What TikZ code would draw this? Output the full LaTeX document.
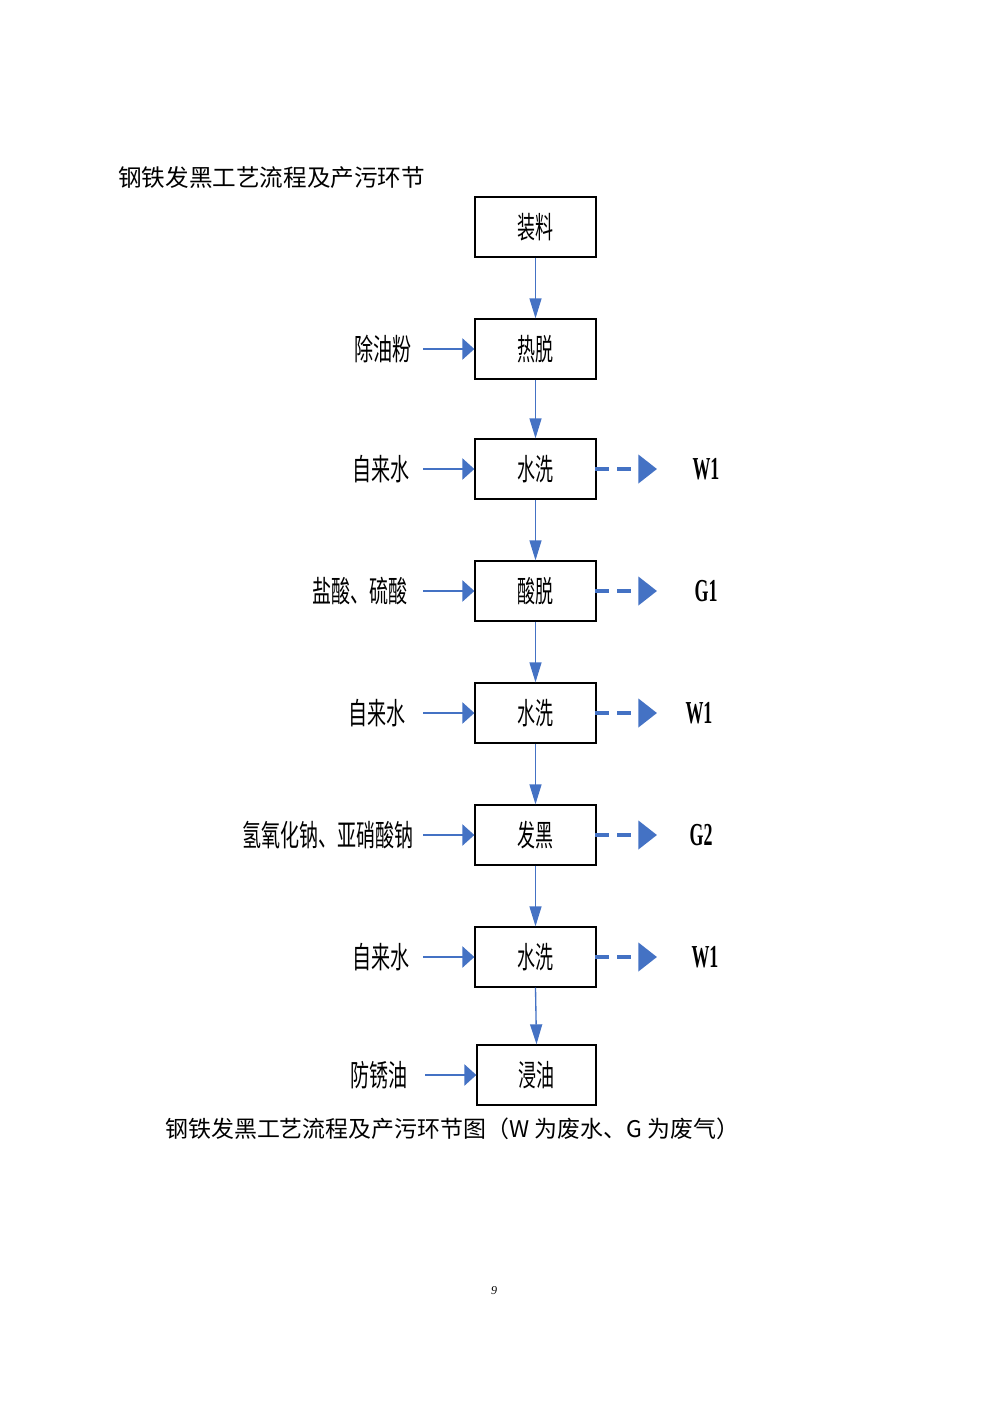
\documentclass[tikz,border=0pt]{standalone}
\usepackage{fontspec}
\setmainfont{Liberation Serif}
\newfontfamily\cjk{Noto Sans CJK SC}
\usetikzlibrary{arrows.meta}
\definecolor{flow}{HTML}{4472C4}
\newcommand{\narrow}[1]{\scalebox{0.6}[1]{#1}}
\newcommand{\narrowlab}[1]{\scalebox{0.635}[1]{#1}}
\newcommand{\outtxt}[1]{\scalebox{0.56}[1]{\bfseries #1}}
\begin{document}
\begin{tikzpicture}[x=0.75pt,y=-0.75pt,
  stepbox/.style={draw=black, line width=1pt, minimum width=90.75pt, minimum height=45pt, inner sep=0pt, font=\cjk\fontsize{22.5}{26}\selectfont},
  inlab/.style={anchor=east, inner sep=0pt, font=\cjk\fontsize{22.5}{26}\selectfont},
  outlab/.style={anchor=center, inner sep=0pt, font=\fontsize{24}{28}\selectfont},
  feed/.style={draw=flow, line width=1pt, -{Triangle[length=9pt,width=16pt]}, color=flow},
  down/.style={draw=flow, line width=1pt, -{Triangle[length=15pt,width=9pt]}, color=flow},
  waste/.style={draw=flow, line width=3.2pt, dash pattern=on 10pt off 6.5pt, -{Triangle[length=14pt,width=21pt]}, color=flow}
]
\useasboundingbox (0,0) rectangle (992,1403);

% title
\node[anchor=west, inner sep=0pt, font=\cjk\fontsize{17.7}{20}\selectfont] (title) at (118,178) {钢铁发黑工艺流程及产污环节};

% boxes
\node[stepbox] (b1) at (535.5,227) {\narrow{装料}};
\node[stepbox] (b2) at (535.5,349) {\narrow{热脱}};
\node[stepbox] (b3) at (535.5,469) {\narrow{水洗}};
\node[stepbox] (b4) at (535.5,591) {\narrow{酸脱}};
\node[stepbox] (b5) at (535.5,713) {\narrow{水洗}};
\node[stepbox] (b6) at (535.5,835) {\narrow{发黑}};
\node[stepbox] (b7) at (535.5,957) {\narrow{水洗}};
\node[stepbox, minimum width=89.25pt] (b8) at (536.5,1075) {\narrow{浸油}};

% input labels
\node[inlab] (l2) at (412,349) {\narrowlab{除油粉}};
\node[inlab] (l3) at (410,469) {\narrowlab{自来水}};
\node[inlab] (l4) at (408,591) {\narrowlab{盐酸、硫酸}};
\node[inlab] (l5) at (406,713) {\narrowlab{自来水}};
\node[inlab] (l6) at (414,835) {\narrowlab{氢氧化钠、亚硝酸钠}};
\node[inlab] (l7) at (410,957) {\narrowlab{自来水}};
\node[inlab] (l8) at (408,1075) {\narrowlab{防锈油}};

% input arrow starts
\coordinate (s2) at (423,349);
\coordinate (s3) at (423,469);
\coordinate (s4) at (423,591);
\coordinate (s5) at (423,713);
\coordinate (s6) at (423,835);
\coordinate (s7) at (423,957);
\coordinate (s8) at (425,1075);

% output labels
\node[outlab] (o3) at (706,469) {\outtxt{W1}};
\node[outlab] (o4) at (706,591) {\outtxt{G1}};
\node[outlab] (o5) at (699,713) {\outtxt{W1}};
\node[outlab] (o6) at (701,835) {\outtxt{G2}};
\node[outlab] (o7) at (705,957) {\outtxt{W1}};

% waste arrow ends
\coordinate (e3) at (657,469);
\coordinate (e4) at (657,591);
\coordinate (e5) at (657,713);
\coordinate (e6) at (657,835);
\coordinate (e7) at (657,957);

% vertical flow
\draw[down] (b1) -- (b2);
\draw[down] (b2) -- (b3);
\draw[down] (b3) -- (b4);
\draw[down] (b4) -- (b5);
\draw[down] (b5) -- (b6);
\draw[down] (b6) -- (b7);
\draw[down] (b7.south) -- (b8.north);

% inputs
\draw[feed] (s2) -- (b2.west);
\draw[feed] (s3) -- (b3.west);
\draw[feed] (s4) -- (b4.west);
\draw[feed] (s5) -- (b5.west);
\draw[feed] (s6) -- (b6.west);
\draw[feed] (s7) -- (b7.west);
\draw[feed] (s8) -- (b8.west);

% wastes
\draw[waste] ([xshift=-1pt]b3.east) -- (e3);
\draw[waste] ([xshift=-1pt]b4.east) -- (e4);
\draw[waste] ([xshift=-1pt]b5.east) -- (e5);
\draw[waste] ([xshift=-1pt]b6.east) -- (e6);
\draw[waste] ([xshift=-1pt]b7.east) -- (e7);

% caption
\node[anchor=west, inner sep=0pt, font=\cjk\fontsize{17.2}{20}\selectfont] (cap) at (165,1129) {钢铁发黑工艺流程及产污环节图（W 为废水、G 为废气）};

% page number
\node[inner sep=0pt, font=\fontsize{9}{10}\selectfont\itshape] (pg) at (494,1291) {9};
\end{tikzpicture}
\end{document}
